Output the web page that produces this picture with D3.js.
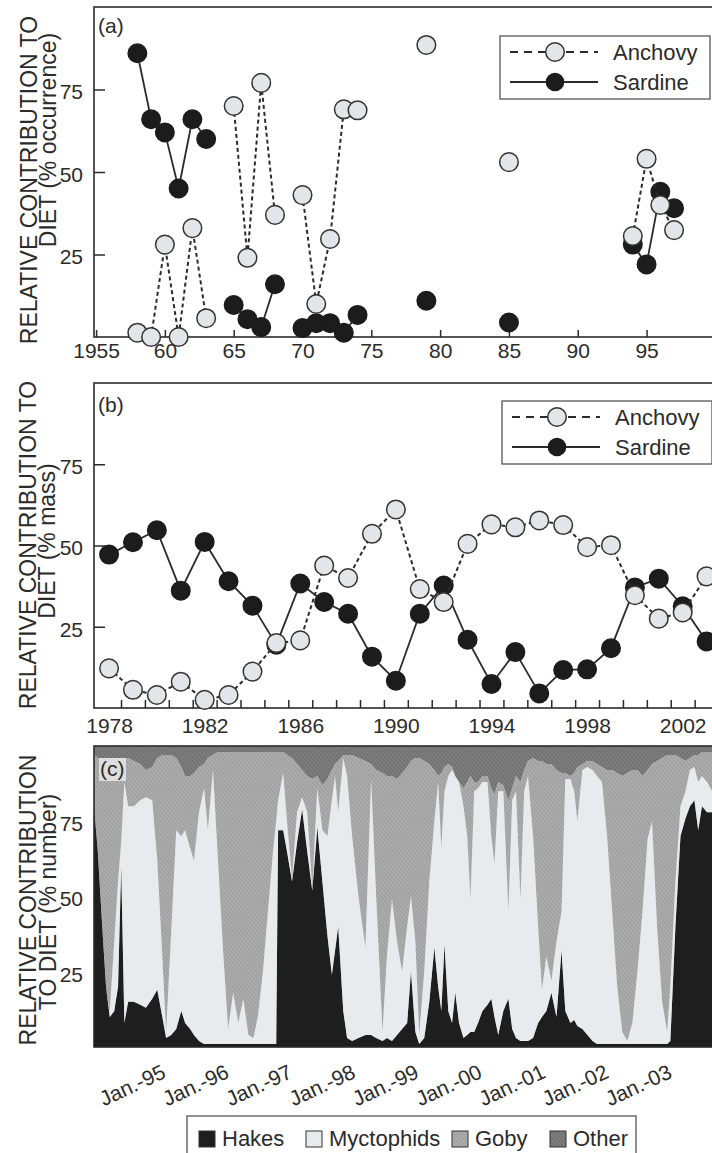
<!DOCTYPE html>
<html>
<head>
<meta charset="utf-8">
<script src="https://cdn.jsdelivr.net/npm/d3@7"></script>
<style>
body { margin: 0; background: #fff; }
svg { display: block; }
</style>
</head>
<body>
<div class="chart"></div>
<script>
// ---- data: panel (a), % occurrence by year
var occYears   = [1958, 1959, 1960, 1961, 1962, 1963, 1965, 1966, 1967, 1968, 1970, 1971, 1972, 1973, 1974, 1979, 1985, 1994, 1995, 1996, 1997];
var occAnchovy = [1.3, 0, 28, 0, 33, 5.7, 70, 24, 77, 37, 43, 10, 29.7, 69, 68.7, 88.5, 53, 30.6, 54, 40, 32.4];
var occSardine = [86, 66, 62, 45, 66, 60, 9.7, 5.4, 3, 16, 2.7, 4.2, 4.2, 1.3, 6.7, 11, 4.4, 28, 22, 44, 39];
var occTicks = [1955, 1960, 1965, 1970, 1975, 1980, 1985, 1990, 1995];
var occTickLabels = ["1955", "60", "65", "70", "75", "80", "85", "90", "95"];

// ---- data: panel (b), % mass by year
var massYears   = [1978, 1979, 1980, 1981, 1982, 1983, 1984, 1985, 1986, 1987, 1988, 1989, 1990, 1991, 1992, 1993, 1994, 1995, 1996, 1997, 1998, 1999, 2000, 2001, 2002, 2003];
var massAnchovy = [12.2, 5.6, 4.0, 8.1, 2.5, 4.0, 11.2, 20.0, 20.8, 43.8, 40.0, 53.6, 61.1, 36.6, 32.6, 50.5, 56.5, 55.6, 57.7, 56.3, 49.5, 50.1, 34.7, 27.5, 29.4, 40.5];
var massSardine = [47.2, 51.0, 54.7, 36.1, 51.1, 39.0, 31.5, 19.5, 38.3, 32.6, 29.0, 15.8, 8.4, 29.0, 37.7, 21.0, 7.4, 17.2, 4.5, 11.7, 11.9, 18.4, 37.1, 39.8, 31.3, 20.5];
var massTickLabels = [1978, 1982, 1986, 1990, 1994, 1998, 2002];

// ---- data: panel (c), % number by sampling date (decimal year)
var numDates = [1993.86,1993.92,1993.99,1994.05,1994.11,1994.18,1994.24,1994.29,1994.34,1994.40,
  1994.49,1994.59,1994.68,1994.78,1994.86,1994.94,1995.00,1995.08,1995.16,
  1995.24,1995.30,1995.38,1995.44,1995.52,1995.60,1995.66,1995.74,1995.82,1995.90,1995.98,1996.06,1996.14,1996.22,1996.30,
  1996.38,1996.45,1996.53,1996.61,1996.69,1996.74,
  1996.77,1996.85,1996.91,1996.99,1997.07,1997.15,1997.23,1997.31,1997.39,1997.47,1997.55,1997.62,1997.67,1997.72,1997.80,1997.86,1997.94,1998.04,1998.15,1998.24,1998.32,1998.42,1998.49,1998.57,1998.65,1998.73,
  1998.81,1998.87,1998.94,1999.00,1999.08,1999.16,1999.24,1999.30,1999.35,1999.40,
  1999.46,1999.52,1999.57,1999.63,1999.70,1999.76,1999.81,1999.87,1999.93,2000.00,
  2000.08,2000.14,2000.19,2000.25,2000.33,2000.41,2000.47,2000.53,2000.60,2000.66,
  2000.72,2000.80,2000.88,2000.94,2001.01,2001.09,2001.17,2001.25,2001.31,2001.39,
  2001.45,2001.50,2001.58,2001.66,2001.74,2001.81,2001.89,2001.97,2002.05,2002.13,
  2002.21,2002.29,2002.37,2002.45,2002.53,2002.61,2002.68,2002.76,2002.84,2002.92,
  2002.97,2003.05,2003.13,2003.21,2003.28,2003.35,2003.41,2003.47,2003.55,2003.63];
var numHakes = [80,65,40,20,10,12,20,60,8,15,
  15,14,13,16,19,10,3,4,6,
  12,8,6,4,2,1,1,1,1,1,1,1,1,1,1,
  1,1,1,1,1,1,
  72,72,65,55,68,79,65,52,73,55,37,24,32,40,12,3,2,3,4,4,3,2,3,2,4,6,
  8,25,5,1,3,15,33,20,12,34,
  12,8,18,8,3,4,5,5,8,12,
  14,16,10,4,12,16,6,3,2,2,
  2,3,8,10,12,18,10,32,12,8,
  9,7,6,4,2,1,1,1,1,1,
  1,1,1,1,1,1,1,1,1,1,
  2,40,70,76,80,82,72,80,78,78];
var numMyctophids = [0,0,0,0,2,23,35,8,80,65,
  65,68,70,66,43,20,2,34,66,
  58,64,60,58,76,85,71,91,61,31,5,17,7,15,3,
  2,9,24,44,64,74,
  10,19,10,1,10,4,13,1,13,17,33,58,58,38,84,87,68,47,29,85,47,3,27,47,31,19,
  32,25,30,3,22,40,42,68,54,51,
  78,84,72,80,77,66,44,80,78,76,
  74,54,51,81,73,29,76,82,47,83,
  88,67,32,9,18,4,25,13,77,81,
  76,68,86,89,90,89,87,69,44,19,
  4,1,7,24,44,68,74,39,14,4,
  18,15,10,9,12,11,16,10,10,7];
var numGoby = [17,31,55,75,82,60,40,27,8,16,
  15,12,9,11,34,67,92,59,24,
  23,18,24,29,15,8,24,5,36,66,92,80,90,82,94,
  95,88,73,53,33,23,
  16,7,22,40,16,9,12,36,4,15,19,10,4,17,1,7,27,46,62,5,42,86,60,41,54,66,
  53,45,61,92,70,39,17,2,25,8,
  4,1,0,0,6,18,41,3,2,2,
  2,16,23,3,2,37,4,5,39,7,
  5,26,55,76,64,72,57,46,2,1,
  6,18,2,2,3,4,5,22,47,71,
  85,89,84,67,45,23,19,55,81,92,
  77,42,16,10,4,4,9,8,10,13];
var numOther = [3,4,5,5,6,5,5,5,4,4,
  5,6,8,7,4,3,3,3,4,
  7,10,10,9,7,6,4,3,2,2,2,2,2,2,2,
  2,2,2,2,2,2,
  2,2,3,4,6,8,10,11,10,13,11,8,6,5,3,3,3,4,5,6,8,9,10,10,11,9,
  7,5,4,4,5,6,8,10,9,7,
  6,7,10,12,14,12,10,12,12,10,
  10,14,16,12,13,18,14,10,12,8,
  5,4,5,5,6,6,8,9,9,10,
  9,7,6,5,5,6,7,8,8,9,
  10,9,8,8,10,8,6,5,4,3,
  3,3,4,5,4,3,3,2,2,2];
var janDates = [1995, 1996, 1997, 1998, 1999, 2000, 2001, 2002, 2003];
var janLabels = ["Jan.-95", "Jan.-96", "Jan.-97", "Jan.-98", "Jan.-99", "Jan.-00", "Jan.-01", "Jan.-02", "Jan.-03"];
var yTicks = [25, 50, 75];

// ---- layout
var svgWidth = 712;
var svgHeight = 1153;
var left = 94, right = 714;
var font = "'Liberation Sans', Arial, Helvetica, sans-serif";
var ink = "#2b2b2b";

var svg = d3.select(".chart")
    .append("svg")
    .attr("width", svgWidth)
    .attr("height", svgHeight)
    .attr("font-family", font);

svg.append("rect").attr("width", svgWidth).attr("height", svgHeight).attr("fill", "#fff");

// scales
var xA = d3.scaleLinear().domain([1954.85, 1999.9]).range([left, right]);
var yA = d3.scaleLinear().domain([0, 100]).range([337, 7]);
var xB = d3.scaleLinear().domain([1977.37, 2003.31]).range([left, right]);
var yB = d3.scaleLinear().domain([0, 100]).range([708, 383]);
var xC = d3.scaleLinear().domain([1993.86, 2003.66]).range([left, right]);
var yC = d3.scaleLinear().domain([0, 100]).range([1047, 746]);

// patterns for the grey (scanned) fills
var defs = svg.append("defs");
function texture(id, base, lineColor) {
    var p = defs.append("pattern")
        .attr("id", id)
        .attr("patternUnits", "userSpaceOnUse")
        .attr("width", 3).attr("height", 3)
        .attr("patternTransform", "rotate(-40)");
    p.append("rect").attr("width", 3).attr("height", 3).attr("fill", base);
    p.append("rect").attr("width", 1).attr("height", 3).attr("fill", lineColor);
}
texture("gobyTex", "#acacac", "#9c9c9c");
texture("otherTex", "#7e7e7e", "#6c6c6c");

var layerFill = {
    hakes: "#1e1e1e",
    myctophids: "#e9eaee",
    goby: "url(#gobyTex)",
    other: "url(#otherTex)"
};

function frame(top, bottom) {
    svg.append("rect")
        .attr("x", left).attr("y", top)
        .attr("width", right - left).attr("height", bottom - top)
        .attr("fill", "none")
        .attr("stroke", ink)
        .attr("stroke-width", 1.6);
}

function yAxis(y, tickLen) {
    var g = svg.append("g")
        .attr("transform", `translate(${left},0)`)
        .call(d3.axisLeft(y).tickValues(yTicks).tickSize(-tickLen).tickPadding(11));
    g.attr("font-family", font).attr("font-size", 21);
    g.select(".domain").remove();
    g.selectAll("line").attr("stroke", ink).attr("stroke-width", 1.5);
    g.selectAll("text").attr("fill", ink).attr("dy", "0.45em");
}

function yTitle(lines) {
    lines.forEach(function(l) {
        svg.append("text")
            .attr("transform", `translate(${l.x},${l.y}) rotate(-90)`)
            .attr("text-anchor", "middle")
            .attr("font-size", 23)
            .attr("fill", ink)
            .text(l.text);
    });
}

function panelLabel(txt, x, y) {
    svg.append("text")
        .attr("x", x).attr("y", y)
        .attr("font-size", 21)
        .attr("fill", ink)
        .text(txt);
}

function withGaps(years, values) {
    var out = [];
    years.forEach(function(yr, i) {
        if (i > 0 && yr - years[i - 1] > 1) out.push(null);
        out.push({year: yr, v: values[i]});
    });
    return out;
}

function drawSeries(x, y, years, anchovy, sardine) {
    var line = d3.line()
        .defined(d => d !== null)
        .x(d => x(d.year))
        .y(d => y(d.v));
    var sard = withGaps(years, sardine);
    var anch = withGaps(years, anchovy);

    svg.append("path")
        .datum(sard)
        .attr("d", line)
        .attr("fill", "none")
        .attr("stroke", ink)
        .attr("stroke-width", 1.8);
    svg.append("g").selectAll("circle")
        .data(sard.filter(d => d))
        .enter()
        .append("circle")
        .attr("cx", d => x(d.year))
        .attr("cy", d => y(d.v))
        .attr("r", 9.3)
        .attr("fill", "#1c1c1c")
        .attr("stroke", "#1c1c1c")
        .attr("stroke-width", 1.4);

    svg.append("path")
        .datum(anch)
        .attr("d", line)
        .attr("fill", "none")
        .attr("stroke", ink)
        .attr("stroke-width", 2)
        .attr("stroke-dasharray", "4,3");
    svg.append("g").selectAll("circle")
        .data(anch.filter(d => d))
        .enter()
        .append("circle")
        .attr("cx", d => x(d.year))
        .attr("cy", d => y(d.v))
        .attr("r", 9.3)
        .attr("fill", "#e3e5e9")
        .attr("stroke", "#333")
        .attr("stroke-width", 1.5);
}

function fishLegend(x0, y0) {
    svg.append("rect")
        .attr("x", x0).attr("y", y0)
        .attr("width", 210).attr("height", 63)
        .attr("fill", "#fff")
        .attr("stroke", "#555")
        .attr("stroke-width", 1.3);
    var r1 = y0 + 16, r2 = y0 + 46;
    svg.append("line")
        .attr("x1", x0 + 10).attr("x2", x0 + 98)
        .attr("y1", r1).attr("y2", r1)
        .attr("stroke", ink).attr("stroke-width", 2)
        .attr("stroke-dasharray", "8,6");
    svg.append("circle")
        .attr("cx", x0 + 55).attr("cy", r1).attr("r", 9.3)
        .attr("fill", "#e3e5e9").attr("stroke", "#333").attr("stroke-width", 1.5);
    svg.append("line")
        .attr("x1", x0 + 10).attr("x2", x0 + 98)
        .attr("y1", r2).attr("y2", r2)
        .attr("stroke", ink).attr("stroke-width", 1.8);
    svg.append("circle")
        .attr("cx", x0 + 55).attr("cy", r2).attr("r", 9.3)
        .attr("fill", "#1c1c1c");
    svg.append("text").attr("x", x0 + 113).attr("y", r1 + 8)
        .attr("font-size", 22).attr("fill", ink).text("Anchovy");
    svg.append("text").attr("x", x0 + 113).attr("y", r2 + 8)
        .attr("font-size", 22).attr("fill", ink).text("Sardine");
}

// ================= panel (a)
frame(7, 337);
yAxis(yA, 11);
var gxA = svg.append("g")
    .attr("transform", "translate(0,337)")
    .call(d3.axisBottom(xA).tickValues(occTicks).tickSize(-7).tickPadding(6)
        .tickFormat((d, i) => occTickLabels[i]));
gxA.attr("font-family", font).attr("font-size", 21);
gxA.select(".domain").remove();
gxA.selectAll("line").attr("stroke", ink).attr("stroke-width", 1.5);
gxA.selectAll("text").attr("fill", ink);

drawSeries(xA, yA, occYears, occAnchovy, occSardine);
fishLegend(500, 36);
panelLabel("(a)", 98, 33);
yTitle([
    {text: "RELATIVE CONTRIBUTION TO", x: 37, y: 180},
    {text: "DIET (% occurrence)", x: 56, y: 140}
]);

// ================= panel (b)
frame(383, 708);
yAxis(yB, 11);
var gxB = svg.append("g")
    .attr("transform", "translate(0,708)")
    .call(d3.axisBottom(xB).tickValues(d3.range(1978.5, 2003, 1)).tickSize(-8).tickFormat(""));
gxB.select(".domain").remove();
gxB.selectAll("line").attr("stroke", ink).attr("stroke-width", 1.5);
var gxB2 = svg.append("g")
    .attr("transform", "translate(0,708)")
    .call(d3.axisBottom(xB).tickValues(massTickLabels).tickSize(0).tickPadding(10).tickFormat(d3.format("d")));
gxB2.attr("font-family", font).attr("font-size", 21);
gxB2.select(".domain").remove();
gxB2.selectAll("text").attr("fill", ink);

drawSeries(xB, yB, massYears, massAnchovy, massSardine);
fishLegend(502, 401);
panelLabel("(b)", 98, 412);
yTitle([
    {text: "RELATIVE CONTRIBUTION TO", x: 36, y: 545},
    {text: "DIET (% mass)", x: 55, y: 541}
]);

// ================= panel (c)
var keys = ["hakes", "myctophids", "goby", "other"];
var stackRows = numDates.map(function(t, i) {
    return {t: t, hakes: numHakes[i], myctophids: numMyctophids[i], goby: numGoby[i], other: numOther[i]};
});
var layers = d3.stack().keys(keys)(stackRows);

defs.append("clipPath").attr("id", "clipC")
    .append("rect")
    .attr("x", left).attr("y", 746)
    .attr("width", right - left).attr("height", 1047 - 746);

var area = d3.area()
    .x(d => xC(d.data.t))
    .y0(d => yC(d[0]))
    .y1(d => yC(d[1]));

svg.append("g")
    .attr("clip-path", "url(#clipC)")
    .selectAll("path")
    .data(layers)
    .enter()
    .append("path")
    .attr("d", area)
    .attr("fill", d => layerFill[d.key])
    .attr("stroke", d => d.key === "hakes" ? "#1e1e1e" : "none")
    .attr("stroke-width", 0.5);

frame(746, 1047);
yAxis(yC, 0);

svg.append("rect")
    .attr("x", 99).attr("y", 758)
    .attr("width", 27).attr("height", 23)
    .attr("fill", "#dedede");
panelLabel("(c)", 100, 776);

svg.append("g")
    .selectAll("text")
    .data(janDates)
    .enter()
    .append("text")
    .attr("transform", d => `translate(${xC(d) + 1},1077) rotate(-25)`)
    .attr("text-anchor", "end")
    .attr("font-size", 21)
    .attr("fill", ink)
    .text((d, i) => janLabels[i]);

yTitle([
    {text: "RELATIVE CONTRIBUTION", x: 36, y: 900},
    {text: "TO DIET (% number)", x: 56, y: 902}
]);

// legend (c)
svg.append("rect")
    .attr("x", 187).attr("y", 1116)
    .attr("width", 449).attr("height", 45)
    .attr("fill", "#fff")
    .attr("stroke", "#555")
    .attr("stroke-width", 1.3);
var legendNames = ["Hakes", "Myctophids", "Goby", "Other"];
var legendX = [199, 306, 452, 550];
keys.forEach(function(k, i) {
    svg.append("rect")
        .attr("x", legendX[i]).attr("y", 1131)
        .attr("width", 16).attr("height", 16)
        .attr("fill", layerFill[k])
        .attr("stroke", "#333")
        .attr("stroke-width", 1);
    svg.append("text")
        .attr("x", legendX[i] + 23).attr("y", 1146)
        .attr("font-size", 22)
        .attr("fill", ink)
        .text(legendNames[i]);
});
</script>
</body>
</html>
